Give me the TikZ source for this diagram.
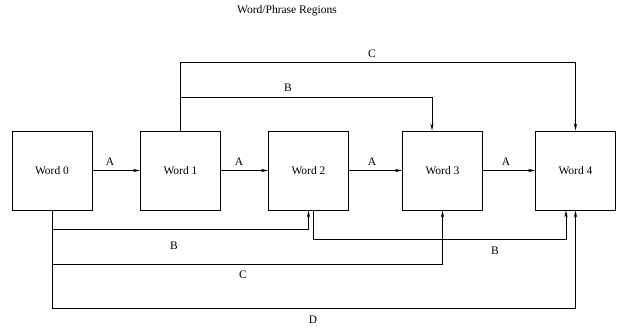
\documentclass[tikz,border=0pt]{standalone}
\usepackage{fontspec}
\setmainfont{Liberation Serif}
\usetikzlibrary{arrows.meta}
\begin{document}
\begin{tikzpicture}[x=1pt,y=1pt,
  wordbox/.style={draw,line width=0.9pt,minimum width=80pt,minimum height=79pt,inner sep=0pt},
  arr/.style={line width=0.9pt,-{Stealth[length=7pt,width=3.2pt]}},
  link/.style={line width=0.9pt},
  lbl/.style={inner sep=0pt},
  every node/.style={font=\fontsize{11.5}{13}\selectfont}]
\useasboundingbox (0,0) rectangle (618,329);

% word boxes
\node[wordbox] (w0) at (52,158.5) {Word 0};
\node[wordbox] (w1) at (180.5,158.5) {Word 1};
\node[wordbox] (w2) at (308.5,158.5) {Word 2};
\node[wordbox] (w3) at (442.5,158.5) {Word 3};
\node[wordbox] (w4) at (575.5,158.5) {Word 4};

\node[lbl] (title) at (287,318) {Word/Phrase Regions};

% A links between neighbours
\draw[arr] (w0) -- (w1);
\draw[arr] (w1) -- (w2);
\draw[arr] (w2) -- (w3);
\draw[arr] (w3) -- (w4);
\node[lbl] (a1) at (110,167) {A};
\node[lbl] (a2) at (239,167) {A};
\node[lbl] (a3) at (372,167) {A};
\node[lbl] (a4) at (506,167) {A};

% links above the row, from Word 1
\coordinate (w3top) at ([xshift=-10.5pt]w3.north);
\draw[link] (w1.north) -- (w1.north |- 0,267);
\draw[arr] (w1.north |- 0,267) -| (w4.north);
\draw[arr] (w1.north |- 0,232) -| (w3top);
\node[lbl] (c1) at (372,275) {C};
\node[lbl] (b1) at (288,241) {B};

% links below the row, from Word 0
\coordinate (w2in) at (w2.south);
\coordinate (w2out) at ([xshift=4.5pt]w2.south);
\coordinate (w4inb) at ([xshift=-9.5pt]w4.south);
\draw[link] (w0.south) -- (w0.south |- 0,21);
\draw[arr] (w0.south |- 0,100) -| (w2in);
\draw[arr] (w0.south |- 0,65) -| (w3.south);
\draw[arr] (w0.south |- 0,21) -| (w4.south);
\node[lbl] (b2) at (174,83) {B};
\node[lbl] (c2) at (243,54) {C};
\node[lbl] (d1) at (313,9) {D};

% link below the row, from Word 2
\draw[arr] (w2out) -- (w2out |- 0,90) -| (w4inb);
\node[lbl] (b3) at (495,78) {B};
\end{tikzpicture}
\end{document}
